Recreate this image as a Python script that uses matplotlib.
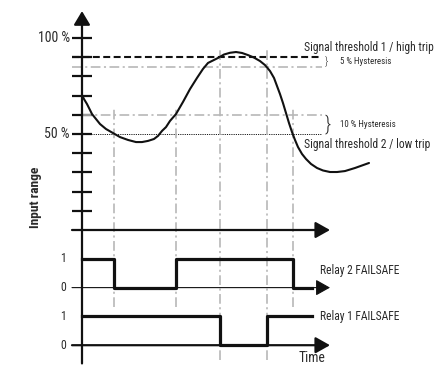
import matplotlib
matplotlib.use("Agg")
import matplotlib.pyplot as plt
from matplotlib import font_manager

# pick a condensed face if one is installed, else Roboto
_names = {f.name for f in font_manager.fontManager.ttflist}
_cond = [n for n in ['Roboto Condensed', 'Liberation Sans Narrow', 'Open Sans Condensed',
                     'Noto Sans Condensed', 'DejaVu Sans Condensed'] if n in _names]
_stretchy = sorted({f.name for f in font_manager.fontManager.ttflist
                    if str(f.stretch) in ('condensed', 'semi-condensed', 'extra-condensed')})
if _cond:
    FAM, STRETCH, K = _cond[0], 'normal', 1.0
elif _stretchy:
    FAM, STRETCH, K = _stretchy[0], 'condensed', 1.0
else:
    FAM, STRETCH, K = 'Roboto', 'normal', 0.85
plt.rcParams['font.family'] = [FAM, 'DejaVu Sans']
plt.rcParams['font.stretch'] = STRETCH
plt.rcParams['lines.scale_dashes'] = False

# ---- data ----
# input signal (time units, % of input range)
signal_t = [0, 2, 5, 8, 10, 14, 18, 24, 31, 38, 46, 54, 60, 66, 72, 76, 80, 84, 88,
            94, 101, 108, 115, 121, 126, 131, 136, 142, 148, 154, 160, 166, 172, 178,
            183, 188, 192, 195, 198, 201, 204, 207, 210, 213, 216, 220, 224, 229, 235,
            241, 248, 255, 263, 273, 280, 287]
signal_pct = [70.3, 68.2, 65.6, 62.5, 60.4, 57.8, 55.2, 52.6, 50.5, 48.4, 46.9, 45.8,
              45.8, 46.4, 47.4, 49.0, 51.6, 53.6, 56.8, 60.4, 66.7, 73.4, 79.2, 83.9,
              87.0, 88.3, 89.6, 91.4, 92.3, 92.7, 92.2, 91.1, 89.8, 88.0, 85.9, 82.8,
              79.2, 75.0, 70.8, 66.1, 60.9, 55.7, 51.0, 46.9, 43.2, 39.6, 37.0, 34.4,
              32.3, 31.0, 30.2, 30.2, 30.7, 32.3, 33.6, 34.9]

range_ticks = [10, 20, 30, 40, 50, 60, 70, 80, 90, 100]
range_labels = {100: '100 %', 50: '50 %'}

high_trip = 90
high_hyst = 5
low_trip = 50
low_hyst = 10

# relay states (step, held after each time)
relay2_t = [0, 32, 94, 211, 230]
relay2_state = [1, 0, 1, 0, 0]
relay1_t = [0, 138, 185, 230]
relay1_state = [1, 0, 1, 1]

relay_names = ['Relay 2 FAILSAFE', 'Relay 1 FAILSAFE']
state_labels = ['0', '1']

# ---- layout ----
fig = plt.figure(figsize=(4.4, 3.65), dpi=100)
ax = fig.add_axes([0, 0, 1, 1])
ax.set_xlim(-82, 358)
ax.set_ylim(-70.31, 119.79)
ax.axis('off')

blk = '#111111'
gray = '#b8b8b8'
txt = '#2a2a2a'
t_end = 248
line_end = 240
left = -10

relay_offset = [-30, -60]
relay_height = 15

def arrow(x0, y0, x1, y1, lw=1.5, hl=0.8, hw=0.45, ms=11):
    ax.annotate('', xy=(x1, y1), xytext=(x0, y0),
                arrowprops=dict(arrowstyle=f'-|>,head_length={hl},head_width={hw}',
                                color=blk, lw=lw, shrinkA=0, shrinkB=0,
                                mutation_scale=ms))

# vertical axis
arrow(0, -69.5, 0, 114, lw=1.6, hl=0.75, hw=0.45, ms=11)
# horizontal axes
arrow(left, 0, t_end, 0, lw=1.6)
arrow(left, relay_offset[0], t_end, relay_offset[0], lw=0.8)
arrow(left, relay_offset[1], t_end, relay_offset[1], lw=1.6)

# range ticks
ax.hlines(range_ticks, -10, 10, colors=blk, lw=1.6)
for v, s in range_labels.items():
    ax.text(-12, v, s, ha='right', va='center', fontsize=10 * K, color=txt)

ax.text(-47, 17, 'Input range', rotation=90, ha='center', va='center',
        fontsize=9.7 * K, fontweight='bold', color=txt)

# threshold lines
dd = (0, (7, 2.5, 1.5, 2.5))
ax.hlines(high_trip, left, line_end, colors=blk, lw=1.5, linestyles=(0, (5, 2.5)))
ax.hlines(high_trip - high_hyst, left, line_end, colors=gray, lw=1.2, linestyles=dd)
ax.hlines(low_trip + low_hyst, 0, line_end, colors=gray, lw=1.2, linestyles=dd)
ax.hlines(low_trip, 0, line_end, colors=blk, lw=0.7, linestyles=(0, (0.8, 0.8)))

# switching guide lines
ax.vlines(relay2_t[1:4], -40, 64, colors=gray, lw=1.2, linestyles=dd)
ax.vlines(relay1_t[1:3], -67.5, 94, colors=gray, lw=1.2, linestyles=dd)

# signal curve
ax.plot(signal_t, signal_pct, color=blk, lw=1.5, solid_capstyle='round',
        solid_joinstyle='round')

# relay traces
for off, tt, ss in [(relay_offset[0], relay2_t, relay2_state),
                    (relay_offset[1], relay1_t, relay1_state)]:
    ax.step(tt, [off + relay_height * s for s in ss], where='post',
            color=blk, lw=2.3)
    for k, lab in enumerate(state_labels):
        ax.text(-19, off + relay_height * k, lab, ha='center', va='center',
                fontsize=8.5 * K, color=txt)

# annotations
ax.text(222, 94.8, 'Signal threshold 1 / high trip', ha='left', va='center',
        fontsize=8.4 * K, color=txt)
ax.text(222, 44.5, 'Signal threshold 2 / low trip', ha='left', va='center',
        fontsize=8.4 * K, color=txt)
ax.text(243, high_trip - high_hyst / 2, '}', ha='left', va='center', fontsize=8,
        color=txt, fontweight='light')
ax.text(258, high_trip - high_hyst / 2, '5 % Hysteresis', ha='left', va='center',
        fontsize=6.4 * K, color=txt)
ax.text(243, low_trip + low_hyst / 2, '}', ha='left', va='center', fontsize=15,
        color=txt, fontweight='light')
ax.text(258, low_trip + low_hyst / 2, '10 % Hysteresis', ha='left', va='center',
        fontsize=6.4 * K, color=txt)

ax.text(238, relay_offset[0] + 9, relay_names[0], ha='left', va='center',
        fontsize=8.3 * K, color=txt)
ax.text(238, relay_offset[1] + relay_height, relay_names[1], ha='left', va='center',
        fontsize=8.3 * K, color=txt)
ax.text(217, -66.8, 'Time', ha='left', va='center', fontsize=9.8 * K, color=txt)

fig.savefig('out.png', dpi=100)
